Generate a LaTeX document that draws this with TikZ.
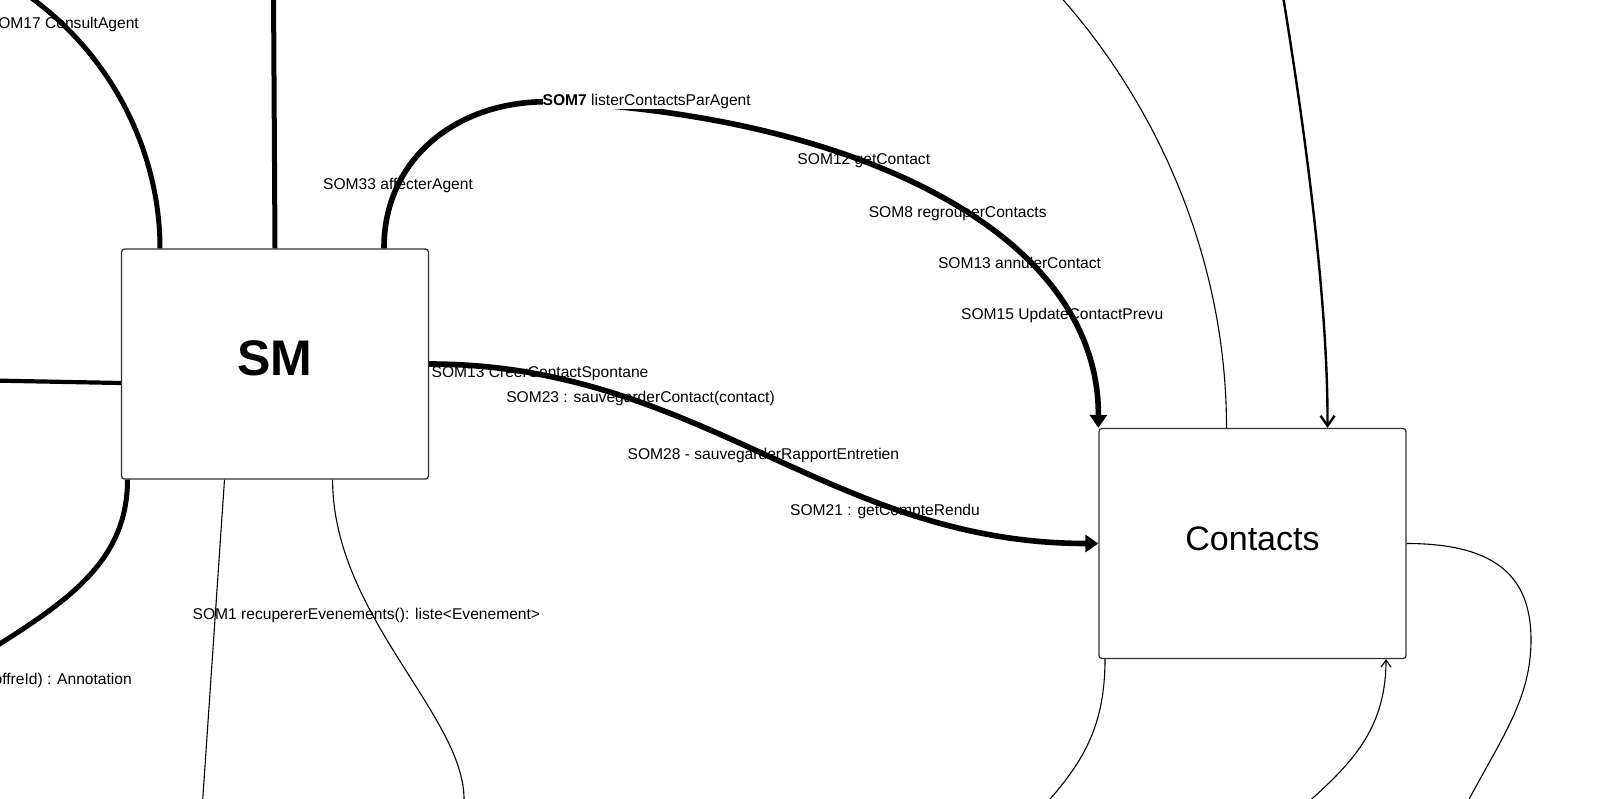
\documentclass[tikz,border=0pt]{standalone}
\usepackage{fontspec}
\setmainfont{Liberation Sans}
\usetikzlibrary{arrows.meta}
\definecolor{boxgray}{HTML}{333333}

\begin{document}
\begin{tikzpicture}[
  x=1pt, y=-1pt,
  font=\fontsize{15.6}{18}\selectfont,
  block/.style={rectangle, rounded corners=3pt, draw=boxgray, line width=1.3pt,
                fill=white, minimum width=307pt, minimum height=230pt, inner sep=0pt},
  lbl/.style={inner sep=0pt},
  heavyline/.style={line width=5pt},
  thinline/.style={line width=1.1pt},
  bigtip/.style={-{Triangle[length=13pt,width=17pt]}},
  openbarb/.style={-{Straight Barb[length=10pt,width=14pt]}},
]
\useasboundingbox (0,0) rectangle (1600,798);
\clip (0,0) rectangle (1600,798);

\node[block, text depth=12pt] (sm) at (275,364) {\fontsize{50}{60}\selectfont\bfseries SM};
\node[block, text depth=10pt] (contacts) at (1252.5,543.5) {\fontsize{34}{40}\selectfont Contacts};

\coordinate (a17) at (20,-10);
\coordinate (avert) at (273.5,-10);
\coordinate (aleft) at (-10,380.5);
\coordinate (aanno) at (-10,650);
\coordinate (asom1a) at (202,810);
\coordinate (asom1b) at (464,800);
\coordinate (ctop1) at (1045,-20);
\coordinate (ctop2) at (1282,-10);
\coordinate (cright) at (1466,805);
\coordinate (cbot1) at (1045,805);
\coordinate (cbot2) at (1305,805);

\draw[heavyline] ([xshift=-115pt]sm.north) .. controls (160,150) and (110,50) .. (a17);
\draw[heavyline] (sm.north) -- (avert);
\draw[heavyline, line width=5.6pt, bigtip] ([xshift=109pt]sm.north) .. controls (383.7,160) and (455,102) .. (546,101.7)
      .. controls (846,114) and (1099,228.5) .. (contacts.north west);
\draw[line width=4.2pt] ([yshift=-19pt]sm.west) -- (aleft);
\draw[heavyline] ([xshift=-147.5pt]sm.south) .. controls (127.5,560) and (70,600) .. (aanno);
\draw[thinline] ([xshift=-50.5pt]sm.south) -- (asom1a);
\draw[thinline] ([xshift=57.6pt]sm.south) .. controls (332.6,615) and (465,716) .. (asom1b);
\draw[heavyline, line width=5.6pt, bigtip] (sm.east) .. controls (700,364) and (830,543.5) .. (contacts.west);

\draw[thinline] ([xshift=-26pt]contacts.north) .. controls (1226.5,250) and (1150,90) .. (ctop1);
\draw[line width=2.4pt, openbarb] (ctop2) .. controls (1305,130) and (1328,300) .. ([xshift=75pt]contacts.north);
\draw[thinline] (contacts.east) .. controls (1500,543.5) and (1531,580) .. (1531,640)
      .. controls (1531,700) and (1500,740) .. (cright);
\draw[thinline] ([xshift=-147.5pt]contacts.south) .. controls (1105,730) and (1080,765) .. (cbot1);
\draw[thinline, -{Straight Barb[length=7pt,width=10pt]}] (cbot2) .. controls (1350,765) and (1386,730) .. ([xshift=133.5pt]contacts.south);

\node[lbl, anchor=east] (l17) at (139,24) {SOM17 ConsultAgent};
\node[lbl] (l33) at (398,185.5) {SOM33 affecterAgent};
\node[lbl, fill=white] (l7) at (646.7,101.7) {\textbf{SOM7} listerContactsParAgent};
\node[lbl] (l12) at (863.8,160.7) {SOM12 getContact};
\node[lbl] (l8) at (957.7,213.3) {SOM8 regrouperContacts};
\node[lbl] (l13a) at (1019.5,263.3) {SOM13 annulerContact};
\node[lbl] (l15) at (1062.2,315) {SOM15 UpdateContactPrevu};

\node[lbl] (l13b) at (540,373.3) {SOM13 CreerContactSpontane};
\node[lbl] (l23) at (640.5,398.3) {SOM23 : sauvegarderContact(contact)};
\node[lbl] (l28) at (763.4,455) {SOM28 - sauvegarderRapportEntretien};
\node[lbl] (l21) at (885,511.7) {SOM21 : getCompteRendu};

\node[lbl] (l1) at (366.4,615.7) {SOM1 recupererEvenements(): liste<Evenement>};
\node[lbl, anchor=east] (lanno) at (132,680) {offreId) : Annotation};
\end{tikzpicture}
\end{document}
